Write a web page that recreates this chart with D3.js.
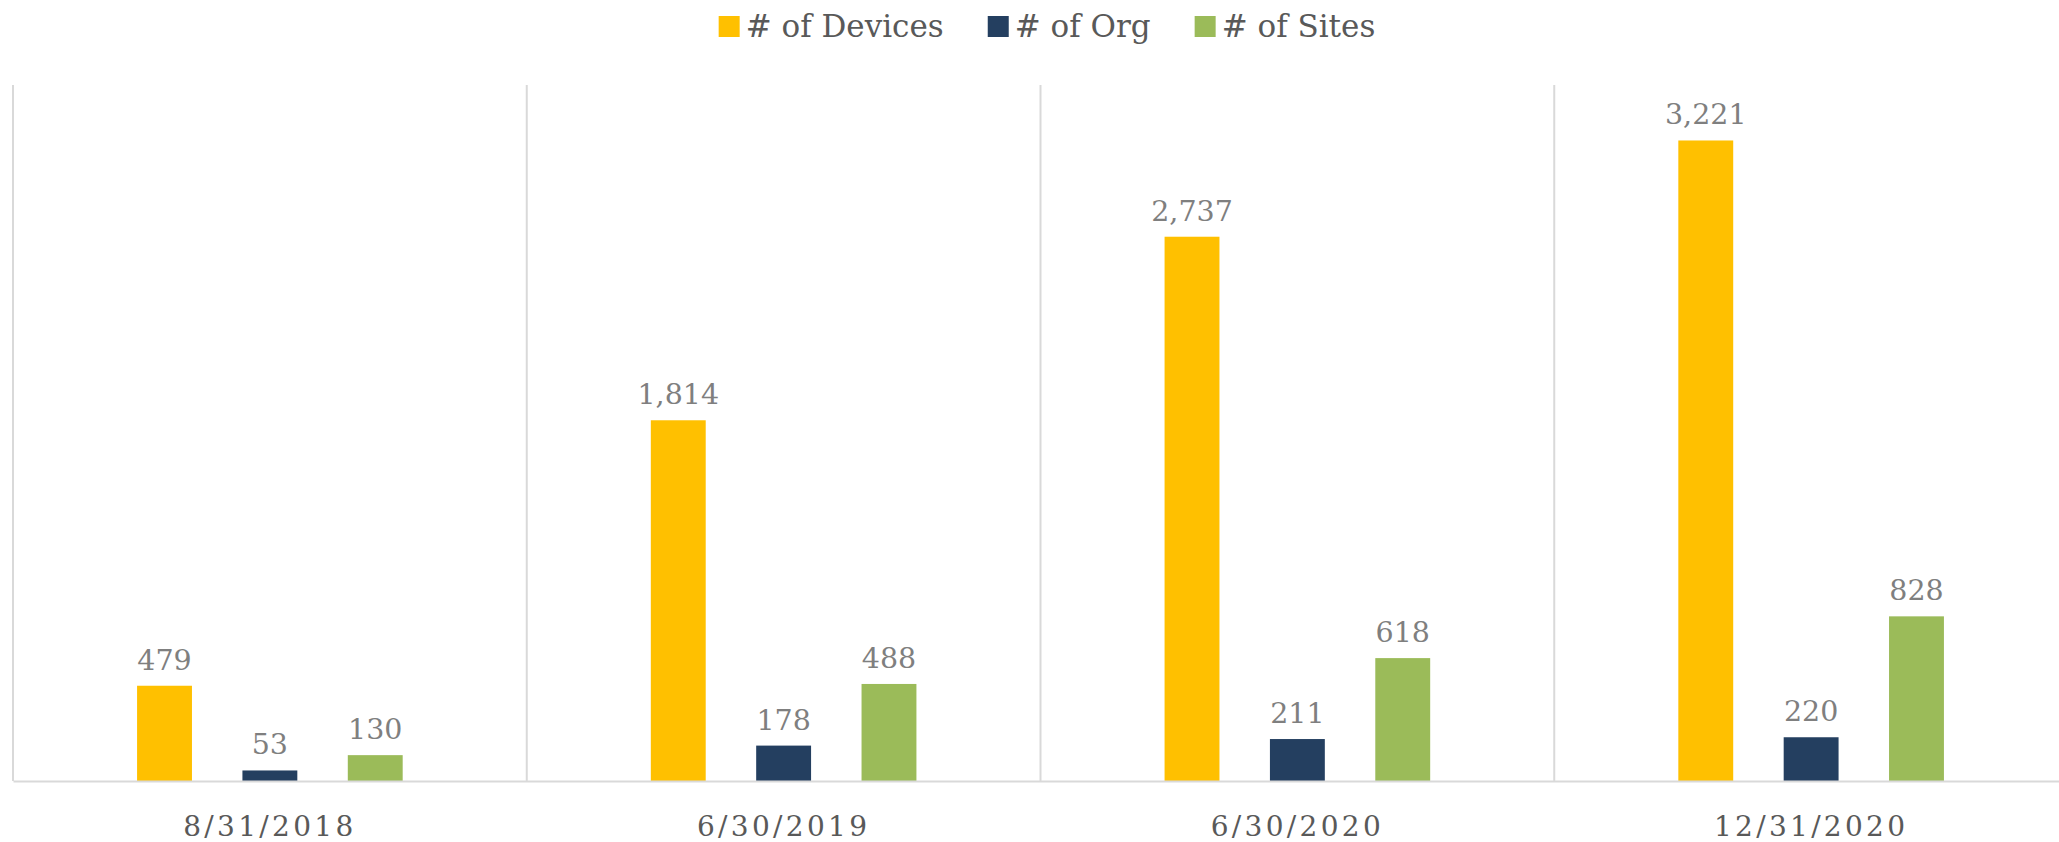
<!DOCTYPE html>
<html>
<head>
<meta charset="utf-8">
<script src="https://cdn.jsdelivr.net/npm/d3@7"></script>
<style>
  body { margin: 0; background: #fff; }
  svg { display: block; }
</style>
</head>
<body>
<div id="chart"></div>
<script>
// data
const categories = ["8/31/2018", "6/30/2019", "6/30/2020", "12/31/2020"];
const seriesNames = ["# of Devices", "# of Org", "# of Sites"];
const devices = [479, 1814, 2737, 3221];
const orgs = [53, 178, 211, 220];
const sites = [130, 488, 618, 828];
const colors = ["#FFC000", "#243F60", "#9BBB59"];

const W = 2059, H = 842;
const plot = { left: 13, right: 2068, top: 85, bottom: 781 };
const font = "'DejaVu Serif', 'Liberation Serif', serif";

const rows = categories.map((c, i) => ({ cat: c, vals: [devices[i], orgs[i], sites[i]] }));

const svg = d3.select("#chart").append("svg")
    .attr("width", W).attr("height", H);

//scales
const x0 = d3.scaleBand().domain(categories).range([plot.left, plot.right]).padding(0);
const bw = x0.bandwidth();
const x1 = d3.scaleBand().domain(seriesNames)
    .range([bw * 0.2415, bw * 0.7585])
    .paddingInner(0.479).paddingOuter(0);
const y = d3.scaleLinear().domain([0, 3500]).range([plot.bottom, plot.top]);

//vertical separators between categories
svg.append("g").selectAll("line")
    .data(categories.concat(["end"]))
    .enter().append("line")
    .attr("x1", (d, i) => plot.left + i * bw)
    .attr("x2", (d, i) => plot.left + i * bw)
    .attr("y1", plot.top).attr("y2", plot.bottom)
    .attr("stroke", "#d9d9d9").attr("stroke-width", 2);

//bars
const groups = svg.append("g").selectAll("g")
    .data(rows).enter().append("g")
    .attr("transform", d => `translate(${x0(d.cat)},0)`);

groups.selectAll("rect")
    .data(d => d.vals.map((v, k) => ({ key: seriesNames[k], v: v, k: k })))
    .enter().append("rect")
    .attr("x", d => x1(d.key))
    .attr("y", d => y(d.v))
    .attr("width", x1.bandwidth())
    .attr("height", d => plot.bottom - y(d.v))
    .attr("fill", d => colors[d.k]);

//value labels
groups.selectAll("text")
    .data(d => d.vals.map((v, k) => ({ key: seriesNames[k], v: v })))
    .enter().append("text")
    .attr("x", d => x1(d.key) + x1.bandwidth() / 2)
    .attr("y", d => y(d.v) - 16)
    .attr("text-anchor", "middle")
    .style("font-family", font).style("font-size", "28.5px")
    .attr("fill", "#7f7f7f")
    .text(d => d3.format(",")(d.v));

//x axis
const xAxis = svg.append("g")
    .attr("transform", `translate(0,${plot.bottom})`)
    .call(d3.axisBottom(x0).tickSize(0).tickPadding(0));
xAxis.select(".domain").attr("stroke", "#d9d9d9").attr("stroke-width", 2);
xAxis.selectAll("text")
    .attr("dy", null).attr("y", 55)
    .style("font-family", font).style("font-size", "28px")
    .style("letter-spacing", "3.3px")
    .attr("fill", "#595959");

//legend
const legend = svg.append("g");
let lx = 0;
seriesNames.forEach((name, k) => {
    const item = legend.append("g").attr("transform", `translate(${lx},0)`);
    item.append("rect").attr("x", 0).attr("y", -10).attr("width", 21).attr("height", 21)
        .attr("fill", colors[k]);
    const t = item.append("text").attr("x", 27).attr("y", 11)
        .style("font-family", font).style("font-size", "31px")
        .attr("fill", "#595959").text(name);
    lx += 27 + t.node().getComputedTextLength() + 44;
});
lx -= 44;
legend.attr("transform", `translate(${1047 - lx / 2},26)`);
</script>
</body>
</html>
